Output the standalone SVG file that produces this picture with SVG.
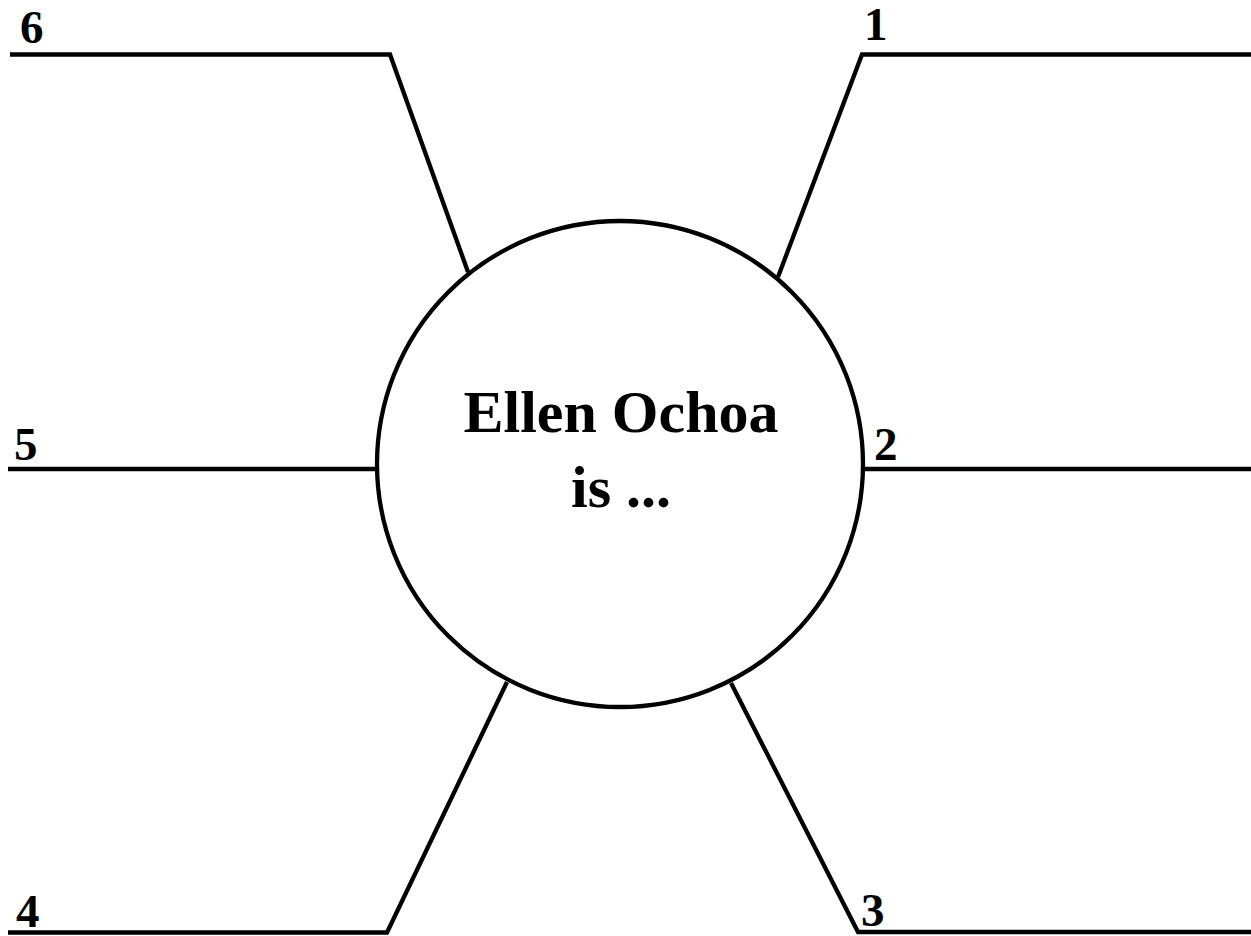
<svg xmlns="http://www.w3.org/2000/svg" width="1251" height="936" viewBox="0 0 1251 936">
<style>
.ln{fill:none;stroke:#000;stroke-width:4.3;stroke-linejoin:miter}
.num{font-weight:bold;font-size:47px;fill:#000}
.ttl{font-weight:bold;font-size:60px;fill:#000;text-anchor:middle}
</style>
<rect width="1251" height="936" fill="#fff"/>
<g id="connectors">
<polyline class="ln" points="10,54.5 390,54.5 468,272"/>
<polyline class="ln" points="1251,54.5 862,54.5 778,277"/>
<polyline class="ln" points="8,469 377,469"/>
<polyline class="ln" points="862,469 1251,469"/>
<polyline class="ln" points="8,932.5 387,932.5 507,682"/>
<polyline class="ln" points="1251,932 858,932 731,683"/>
</g>
<g id="center" font-family="Liberation Serif, Times New Roman, Times, serif">
<circle cx="620" cy="464" r="243" fill="#fff" stroke="#000" stroke-width="4.3"/>
<text class="ttl" x="621" y="432">Ellen Ochoa</text>
<text class="ttl" x="621" y="507">is ...</text>
</g>
<g font-family="Liberation Serif, Times New Roman, Times, serif">
<g id="label-1"><text class="num" x="864" y="40">1</text></g>
<g id="label-2"><text class="num" x="874" y="460">2</text></g>
<g id="label-3"><text class="num" x="861" y="926">3</text></g>
<g id="label-4"><text class="num" x="16" y="927">4</text></g>
<g id="label-5"><text class="num" x="14" y="460">5</text></g>
<g id="label-6"><text class="num" x="20" y="43">6</text></g>
</g>
</svg>
